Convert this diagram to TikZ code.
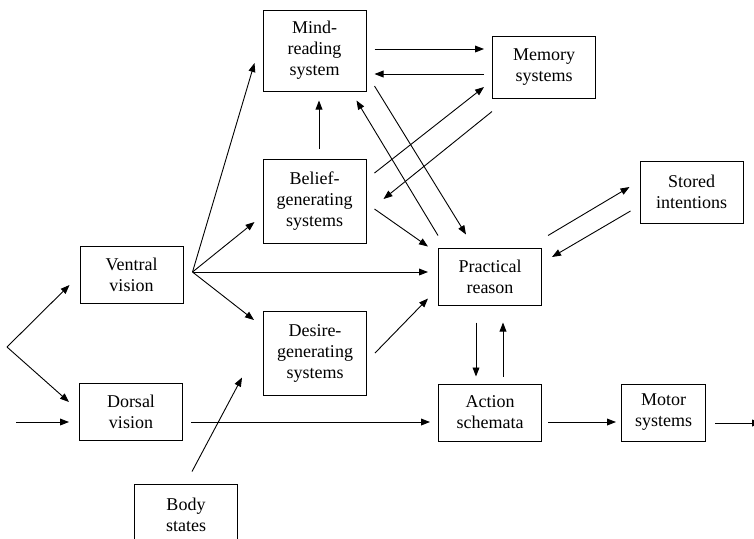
\documentclass[tikz,border=0pt]{standalone}
\usepackage{fontspec}
\setmainfont{Liberation Serif}
\usetikzlibrary{arrows.meta,calc}

\begin{document}
\begin{tikzpicture}[
        x=0.5pt, y=-0.5pt,
        font=\rmfamily\fontsize{9}{10.5}\selectfont,
        box/.style={
            draw=black,
            line width=0.5pt,
            inner sep=0pt,
            minimum width=51.5pt,
            minimum height=28.5pt,
            align=center
        },
        tallbox/.style={
            box,
            minimum height=42pt
        },
        arrow/.style={
            -{Triangle[length=4.5pt,width=3.4pt]},
            line width=0.45pt,
            draw=black
        }
    ]
    \useasboundingbox (0,0) rectangle (754,538);

    % upper row
    \node[tallbox, minimum height=40.5pt] (mind) at (314.5,50.5) {Mind-\\reading\\system};
    \node[box, minimum height=31pt] (memory) at (544,67) {Memory\\systems};
    \node[tallbox] (belief) at (314.5,201) {Belief-\\generating\\systems};
    \node[box, minimum height=31pt] (stored) at (691.5,192) {Stored\\intentions};

    % middle row
    \node[box] (ventral) at (131.5,275) {Ventral\\vision};
    \node[box] (practical) at (490,276.5) {Practical\\reason};
    \node[tallbox] (desire) at (315,353) {Desire-\\generating\\systems};

    % lower row
    \node[box] (dorsal) at (131,411.5) {Dorsal\\vision};
    \node[box] (action) at (490,412.5) {Action\\schemata};
    \node[box, minimum width=42pt] (motor) at (663.5,412.5) {Motor\\systems};
    \node[box, minimum height=31pt] (body) at (186,515) {Body\\states};

    % free ends
    \coordinate (fork) at (7,347);
    \coordinate (input) at (16,422);
    \coordinate (output) at (761,423);
    \coordinate (vfan) at ($(ventral.east)+(9,-3)$);

    % visual input
    \draw[arrow] (fork) -- ($(ventral.west)+(-10,10)$);
    \draw[arrow] (fork) -- ($(dorsal.west)+(-10,-9.5)$);
    \draw[arrow] (input) -- ($(dorsal.west)+(-10,10.5)$);

    % ventral fan
    \draw[arrow] (vfan) -- ($(mind.west)+(-8,12.5)$);
    \draw[arrow] (vfan) -- ($(belief.west)+(-8,21)$);
    \draw[arrow] (vfan) -- ($(practical.west)+(-10,-4.5)$);
    \draw[arrow] (vfan) -- ($(desire.west)+(-9,-33)$);

    % dorsal route
    \draw[arrow] ($(dorsal.east)+(8,10.5)$) -- ($(action.west)+(-8,9.5)$);
    \draw[arrow] ($(action.east)+(6,9.5)$) -- ($(motor.west)+(-5,9.5)$);
    \draw[arrow] ($(motor.east)+(9,10.5)$) -- (output);

    % mind-reading and memory
    \draw[arrow] ($(mind.east)+(8,-1.5)$) -- ($(memory.west)+(-8,-18)$);
    \draw[arrow] ($(memory.west)+(-8,7)$) -- ($(mind.east)+(8,23.5)$);
    \draw[arrow] ($(belief.north)+(4.5,-10)$) -- ($(mind.south)+(4.5,9)$);
    \draw[arrow] ($(belief.east)+(8,-28)$) -- ($(memory.west)+(-8,20)$);
    \draw[arrow] ($(memory.south west)+(0,13)$) -- ($(belief.east)+(17,-2)$);

    % into practical reason
    \draw[arrow] ($(mind.east)+(8,35.5)$) -- ($(practical.north)+(-24,-13)$);
    \draw[arrow] ($(practical.north west)+(0,-12)$) -- ($(mind.south east)+(-10,9)$);
    \draw[arrow] ($(belief.east)+(8,8)$) -- ($(practical.north west)+(-10,-1)$);
    \draw[arrow] ($(desire.east)+(8,0)$) -- ($(practical.south west)+(-10,-7)$);
    \draw[arrow] ($(body.north)+(6,-12)$) -- ($(desire.south west)+(-21,-18)$);

    % practical reason and action
    \draw[arrow] ($(practical.south)+(-14,17)$) -- ($(action.north)+(-14,-7)$);
    \draw[arrow] ($(action.north)+(13,-7)$) -- ($(practical.south)+(13,17)$);
    \draw[arrow] ($(practical.north east)+(6,-12)$) -- ($(stored.west)+(-10,-5)$);
    \draw[arrow] ($(stored.west)+(-9,19)$) -- ($(practical.east)+(10,-19.5)$);

\end{tikzpicture}
\end{document}
